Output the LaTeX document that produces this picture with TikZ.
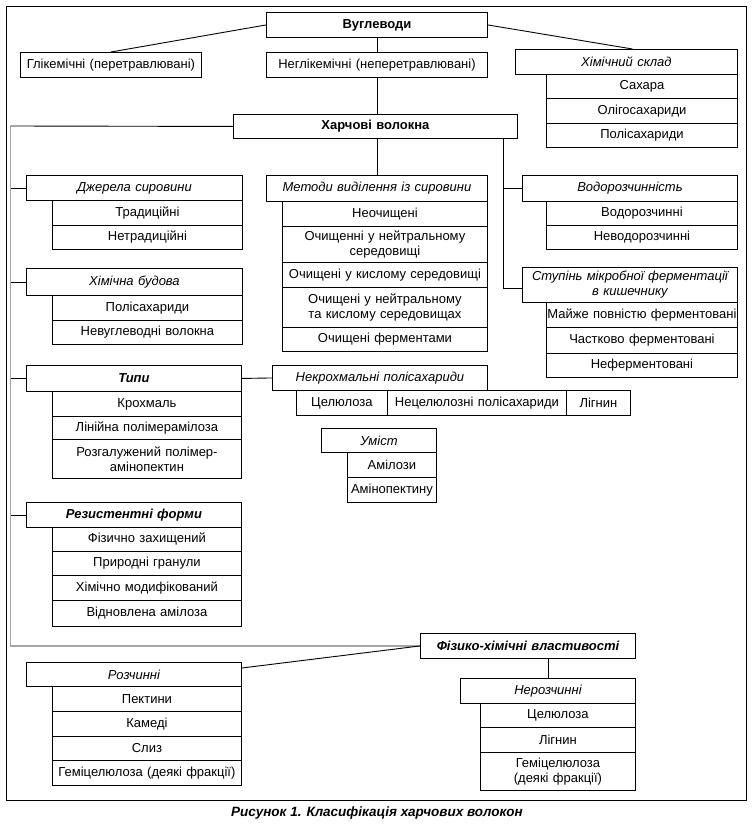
\documentclass[tikz,border=0pt]{standalone}
\usepackage{fontspec}
\setmainfont{Liberation Sans}
\newcommand\fs{\fontsize{13bp}{15bp}\selectfont}
\tikzset{
  bx/.style={draw, line width=0.9bp, inner sep=0pt, anchor=north west, align=center, font=\fs},
  it/.style={font=\fs\itshape},
  bf/.style={font=\fs\bfseries},
  bi/.style={font=\fs\bfseries\itshape},
  ln/.style={line width=0.9bp},
  trunk/.style={line width=1.8bp, draw=black!35}
}
\newcommand\bx[7][]{\node[bx,#1,text width=#5bp,minimum height=#6bp] (#2) at (#3,#4) {#7};}
\begin{document}
\begin{tikzpicture}[x=1bp,y=-1bp]
\useasboundingbox (0,0) rectangle (754,832);
\draw[line width=1bp] (6,6) rectangle (746,800);
% top
\bx[bf]{vug}{266}{12}{221}{25}{Вуглеводи}
\bx{gli}{20}{52}{181}{25}{Глікемічні (перетравлювані)}
\bx{negli}{266}{52}{221}{25}{Неглікемічні (неперетравлювані)}
\bx[it]{him}{515}{49}{222}{25}{Хімічний склад}
\bx{him1}{546}{74}{191}{24}{Сахара}
\bx{him2}{546}{98}{191}{25}{Олігосахариди}
\bx{him3}{546}{123}{191}{24}{Полісахариди}
\bx[bf]{hv}{233}{114}{284}{24}{Харчові волокна}
% left column
\bx[it]{dj}{26}{175}{216}{25}{Джерела сировини}
\bx{dj1}{52}{200}{190}{25}{Традиційні}
\bx{dj2}{52}{225}{190}{24}{Нетрадиційні}
\bx[it]{hb}{26}{268}{216}{27}{Хімічна будова}
\bx{hb1}{52}{295}{190}{25}{Полісахариди}
\bx{hb2}{52}{320}{190}{24}{Невуглеводні волокна}
% middle
\bx[it]{met}{266}{175}{221}{26}{Методи виділення із сировини}
\bx{met1}{282}{201}{205}{25}{Неочищені}
\bx{met2}{282}{226}{205}{36}{Очищенні у нейтральному\\середовищі}
\bx{met3}{282}{262}{205}{25}{Очищені у кислому середовищі}
\bx{met4}{282}{287}{205}{40}{Очищені у нейтральному\\та кислому середовищах}
\bx{met5}{282}{327}{205}{24}{Очищені ферментами}
% right
\bx[it]{vod}{522}{175}{215}{26}{Водорозчинність}
\bx{vod1}{546}{201}{191}{24}{Водорозчинні}
\bx{vod2}{546}{225}{191}{24}{Неводорозчинні}
\bx[it]{stu}{522}{267}{215}{35}{Ступінь мікробної ферментації\\в кишечнику}
\bx{stu1}{546}{302}{191}{25}{Майже повністю ферментовані}
\bx{stu2}{546}{327}{191}{26}{Частково ферментовані}
\bx{stu3}{546}{353}{191}{24}{Неферментовані}
% types
\bx[bi]{typ}{26}{365}{215}{26}{Типи}
\bx{typ1}{52}{391}{189}{25}{Крохмаль}
\bx{typ2}{52}{416}{189}{23}{Лінійна полімерамілоза}
\bx{typ3}{52}{439}{189}{39}{Розгалужений полімер-\\амінопектин}
\bx[it]{nek}{272}{365}{215}{25}{Некрохмальні полісахариди}
\bx{nek1}{296}{390}{91}{25}{Целюлоза}
\bx{nek2}{387}{390}{179}{25}{Нецелюлозні полісахариди}
\bx{nek3}{566}{390}{64}{25}{Лігнин}
\bx[it]{um}{321}{428}{115}{24}{Уміст}
\bx{um1}{347}{452}{89}{25}{Амілози}
\bx{um2}{347}{477}{89}{25}{Амінопектину}
% resistant
\bx[bi]{res}{26}{502}{215}{25}{Резистентні форми}
\bx{res1}{52}{527}{189}{24}{Фізично захищений}
\bx{res2}{52}{551}{189}{24}{Природні гранули}
\bx{res3}{52}{575}{189}{25}{Хімічно модифікований}
\bx{res4}{52}{600}{189}{26}{Відновлена амілоза}
% physico-chemical
\bx[bi]{fiz}{420}{633}{215}{25}{Фізико-хімічні властивості}
\bx[it]{roz}{26}{662}{215}{24}{Розчинні}
\bx{roz1}{52}{686}{189}{25}{Пектини}
\bx{roz2}{52}{711}{189}{25}{Камеді}
\bx{roz3}{52}{736}{189}{24}{Слиз}
\bx{roz4}{52}{760}{189}{25}{Геміцелюлоза (деякі фракції)}
\bx[it]{ner}{460}{678}{175}{25}{Нерозчинні}
\bx{ner1}{480}{703}{155}{24}{Целюлоза}
\bx{ner2}{480}{727}{155}{25}{Лігнин}
\bx{ner3}{480}{752}{155}{38}{Геміцелюлоза\\(деякі фракції)}
% caption
\node[font=\fontsize{13.5bp}{15bp}\selectfont\bfseries\itshape] (cap) at (377,813) {Рисунок 1. Класифікація харчових волокон};
% connectors
\draw[ln] (vug.west) -- (gli.north);
\draw[ln] (vug.east) -- ([xshift=6bp]him.north);
\draw[ln] (vug.south) -- (negli.north);
\draw[ln] (negli.south) -- (negli.south |- hv.north);
\draw[ln] (met.north |- hv.south) -- (met.north);
\coordinate (rt) at (503,138);
\draw[ln] (rt) |- (vod.west);
\draw[ln] (rt) |- ([yshift=-3bp]stu.west);
\coordinate (tl) at (10.5,126);
\draw[trunk] (tl) |- (fiz.west);
\draw[ln] (hv.west) -- (tl);
\draw[ln] (tl |- dj.west) -- (dj.west);
\draw[ln] (tl |- hb.west) -- (hb.west);
\draw[ln] (tl |- typ.west) -- (typ.west);
\draw[ln] (tl |- res.west) -- (res.west);
\draw[ln] (typ.east) -- (nek.west);
\draw[ln] ([yshift=-6bp]roz.north east) -- (fiz.west);
\draw[ln] (ner.north) -- (ner.north |- fiz.south);
\end{tikzpicture}
\end{document}
